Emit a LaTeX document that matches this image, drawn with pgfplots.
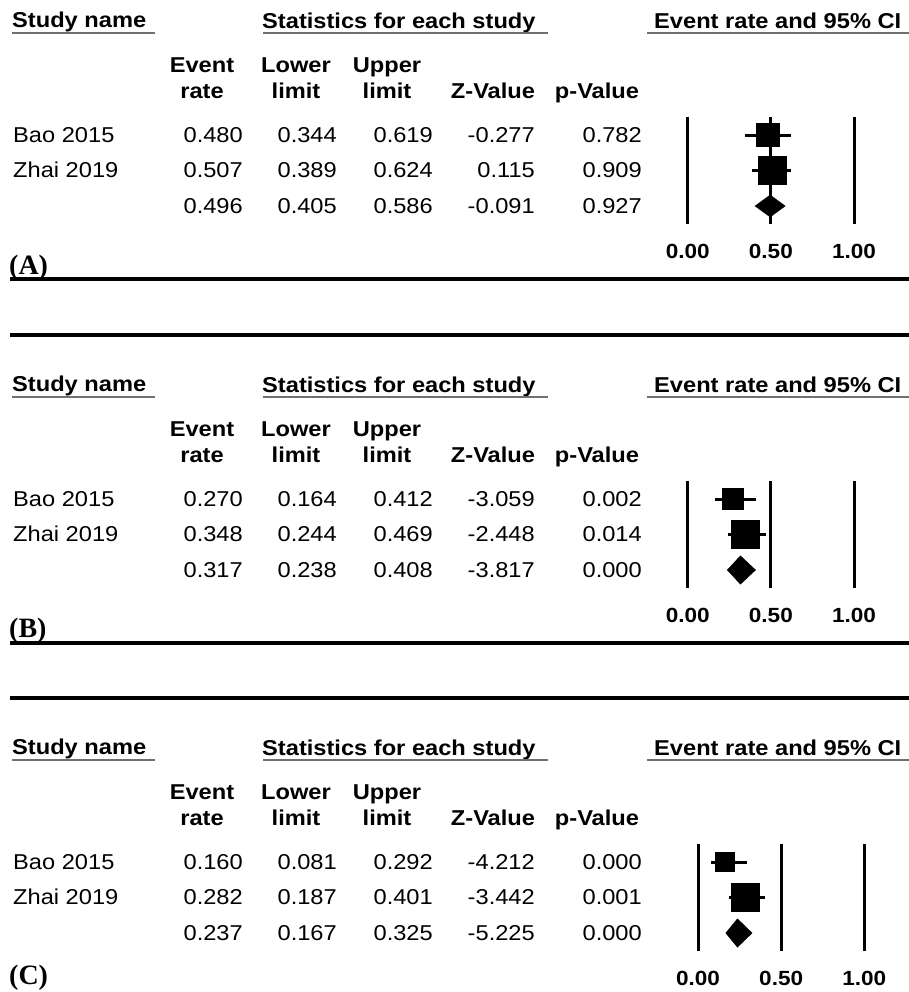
\documentclass[border=0pt]{standalone}
\usepackage{pgfplots}
\pgfplotsset{compat=1.18}
\usepackage{fontspec}
\setmainfont{Liberation Sans}[FakeStretch=1.1]
\newfontfamily\labfont{Liberation Serif}
\definecolor{ulgray}{HTML}{707070}

% #1 baseline, #2 name, #3..#7 values
\newcommand\Row[7]{%
  \node[anchor=base west,inner sep=0pt] at (13bp,-#1bp) {#2};
  \node[anchor=base east,inner sep=0pt] at (243bp,-#1bp) {#3};
  \node[anchor=base east,inner sep=0pt] at (337bp,-#1bp) {#4};
  \node[anchor=base east,inner sep=0pt] at (433bp,-#1bp) {#5};
  \node[anchor=base east,inner sep=0pt] at (535bp,-#1bp) {#6};
  \node[anchor=base east,inner sep=0pt] at (642bp,-#1bp) {#7};
}
% #1 vertical offset
\newcommand\Headers[1]{%
  \begin{scope}[font=\bfseries\fontsize{21.5bp}{24bp}\selectfont]
  \node[anchor=base west,inner sep=0pt] at (12bp,{-(27.5+#1)*1bp}) {Study name};
  \node[anchor=base west,inner sep=0pt] at (262bp,{-(28+#1)*1bp}) {Statistics for each study};
  \node[anchor=base west,inner sep=0pt] at (654bp,{-(28+#1)*1bp}) {Event rate and 95\% CI};
  \node[anchor=base,inner sep=0pt] at (202bp,{-(72+#1)*1bp}) {Event};
  \node[anchor=base,inner sep=0pt] at (296bp,{-(72+#1)*1bp}) {Lower};
  \node[anchor=base,inner sep=0pt] at (387bp,{-(72+#1)*1bp}) {Upper};
  \node[anchor=base,inner sep=0pt] at (202bp,{-(98+#1)*1bp}) {rate};
  \node[anchor=base,inner sep=0pt] at (296bp,{-(98+#1)*1bp}) {limit};
  \node[anchor=base,inner sep=0pt] at (387bp,{-(98+#1)*1bp}) {limit};
  \node[anchor=base,inner sep=0pt] at (493bp,{-(98+#1)*1bp}) {Z-Value};
  \node[anchor=base,inner sep=0pt] at (597bp,{-(98+#1)*1bp}) {p-Value};
  \end{scope}
  \draw[ulgray,line width=2bp] (12bp,{-(32.5+#1)*1bp}) -- (155bp,{-(32.5+#1)*1bp});
  \draw[ulgray,line width=2bp] (263bp,{-(32.5+#1)*1bp}) -- (548bp,{-(32.5+#1)*1bp});
  \draw[ulgray,line width=2bp] (647bp,{-(32.5+#1)*1bp}) -- (909bp,{-(32.5+#1)*1bp});
}

\pgfplotsset{forest/.style={
  anchor=south west, scale only axis, width=166.3bp, height=106.5bp,
  xmin=0, xmax=1, ymin=0.5, ymax=3.5, y dir=reverse, clip=false,
  axis line style={draw=none}, xtick={0,0.5,1}, xticklabels={0.00,0.50,1.00},
  ytick=\empty, major tick length=0pt, xmajorgrids,
  grid style={black,line width=3bp},
  xticklabel style={font=\bfseries\fontsize{20.5bp}{21bp}\selectfont, anchor=base, yshift=-35bp, inner sep=0pt},
}}

\begin{document}
\begin{tikzpicture}
\useasboundingbox (0,0) rectangle (909bp,-992bp);
\fontsize{21.5bp}{24bp}\selectfont

% ---------------- Panel A ----------------
\Headers{0}
\Row{142.5}{Bao 2015}{0.480}{0.344}{0.619}{-0.277}{0.782}
\Row{177.5}{Zhai 2019}{0.507}{0.389}{0.624}{0.115}{0.909}
\Row{213}{}{0.496}{0.405}{0.586}{-0.091}{0.927}
\begin{axis}[forest, at={(687.7bp,-223.75bp)}]
  \addplot[black, line width=3bp] coordinates {(0.344,1) (0.619,1)};
  \addplot[black, line width=3bp] coordinates {(0.389,2) (0.624,2)};
  \addplot[only marks, mark=square*, mark size=11.5bp, black] coordinates {(0.480,1)};
  \addplot[only marks, mark=square*, mark size=14bp, black] coordinates {(0.507,2)};
  \addplot[fill=black, draw=black] coordinates {(0.405,3) (0.496,2.69) (0.586,3) (0.496,3.31)} -- cycle;
\end{axis}
\node[anchor=base west,inner sep=0pt,font=\labfont\bfseries\fontsize{28bp}{28bp}\selectfont] at (9bp,-274bp) {(A)};
\draw[black,line width=4bp] (10bp,-279bp) -- (909bp,-279bp);
\draw[black,line width=4bp] (10bp,-335bp) -- (909bp,-335bp);

% ---------------- Panel B ----------------
\Headers{364}
\Row{506.5}{Bao 2015}{0.270}{0.164}{0.412}{-3.059}{0.002}
\Row{541.5}{Zhai 2019}{0.348}{0.244}{0.469}{-2.448}{0.014}
\Row{577}{}{0.317}{0.238}{0.408}{-3.817}{0.000}
\begin{axis}[forest, at={(687.7bp,-587.75bp)}]
  \addplot[black, line width=3bp] coordinates {(0.164,1) (0.412,1)};
  \addplot[black, line width=3bp] coordinates {(0.244,2) (0.469,2)};
  \addplot[only marks, mark=square*, mark size=10.5bp, black] coordinates {(0.270,1)};
  \addplot[only marks, mark=square*, mark size=14bp, black] coordinates {(0.348,2)};
  \addplot[fill=black, draw=black] coordinates {(0.238,3) (0.317,2.6) (0.408,3) (0.317,3.4)} -- cycle;
\end{axis}
\node[anchor=base west,inner sep=0pt,font=\labfont\bfseries\fontsize{28bp}{28bp}\selectfont] at (9bp,-637bp) {(B)};
\draw[black,line width=4bp] (10bp,-643bp) -- (909bp,-643bp);
\draw[black,line width=4bp] (10bp,-698bp) -- (909bp,-698bp);

% ---------------- Panel C ----------------
\Headers{727}
\Row{869.5}{Bao 2015}{0.160}{0.081}{0.292}{-4.212}{0.000}
\Row{904.5}{Zhai 2019}{0.282}{0.187}{0.401}{-3.442}{0.001}
\Row{940}{}{0.237}{0.167}{0.325}{-5.225}{0.000}
\begin{axis}[forest, at={(698bp,-950.75bp)}]
  \addplot[black, line width=3bp] coordinates {(0.081,1) (0.292,1)};
  \addplot[black, line width=3bp] coordinates {(0.187,2) (0.401,2)};
  \addplot[only marks, mark=square*, mark size=9.5bp, black] coordinates {(0.160,1)};
  \addplot[only marks, mark=square*, mark size=14bp, black] coordinates {(0.282,2)};
  \addplot[fill=black, draw=black] coordinates {(0.167,3) (0.237,2.6) (0.325,3) (0.237,3.4)} -- cycle;
\end{axis}
\node[anchor=base west,inner sep=0pt,font=\labfont\bfseries\fontsize{28bp}{28bp}\selectfont] at (9bp,-984bp) {(C)};
\end{tikzpicture}
\end{document}
